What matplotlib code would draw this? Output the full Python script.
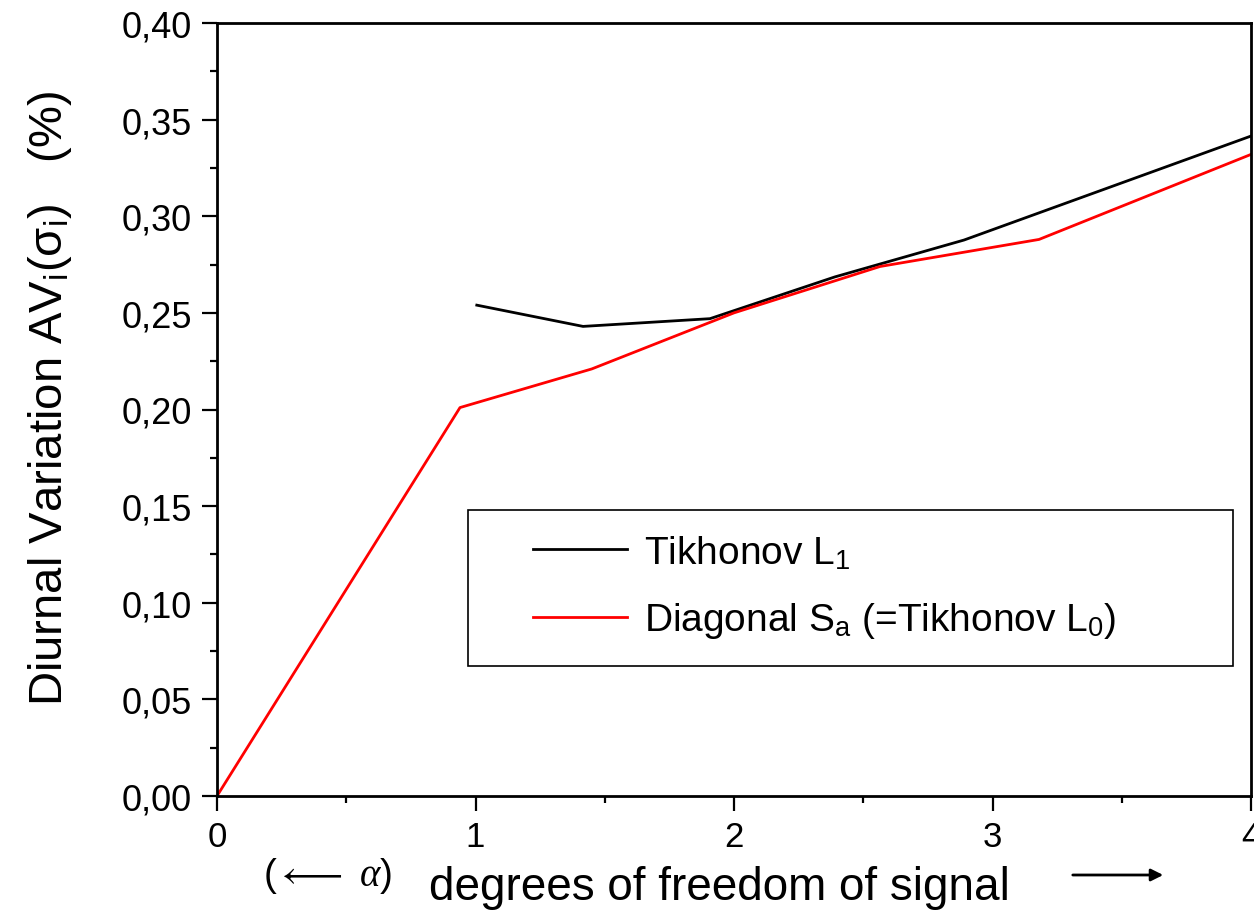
import matplotlib
matplotlib.use("Agg")
import matplotlib.pyplot as plt
from matplotlib.patches import Rectangle

# values
dof_l1 = [1.005, 1.416, 1.907, 2.39, 2.89, 4.0]
av_l1 = [0.254, 0.243, 0.247, 0.2686, 0.2877, 0.3415]

dof_diag = [0.0, 0.94, 1.45, 2.0, 2.565, 3.18, 4.0]
av_diag = [0.0, 0.201, 0.221, 0.250, 0.274, 0.288, 0.332]

y_ticks = [0.0, 0.05, 0.10, 0.15, 0.20, 0.25, 0.30, 0.35, 0.40]
y_tick_labels = ["0,00", "0,05", "0,10", "0,15", "0,20", "0,25", "0,30", "0,35", "0,40"]
x_ticks = [0, 1, 2, 3, 4]

plt.rcParams["font.family"] = "Liberation Sans"
plt.rcParams["mathtext.fontset"] = "custom"
plt.rcParams["mathtext.rm"] = "Liberation Sans"
plt.rcParams["mathtext.it"] = "Liberation Serif:italic"

fig = plt.figure(figsize=(12.54, 9.2), dpi=100)
ax = fig.add_axes([217 / 1254, 1 - 797 / 920, 1034 / 1254, 773 / 920])

ax.plot(dof_l1, av_l1, color="black", lw=2, label=r"Tikhonov L$_\mathregular{1}$")
ax.plot(dof_diag, av_diag, color="red", lw=2,
        label=r"Diagonal S$_\mathregular{a}$ (=Tikhonov L$_\mathregular{0}$)")

ax.set_xlim(0, 4)
ax.set_ylim(0, 0.40)
ax.set_xticks(x_ticks)
ax.set_xticks([0.5, 1.5, 2.5, 3.5], minor=True)
ax.set_yticks(y_ticks)
ax.set_yticklabels(y_tick_labels)
ax.set_yticks([0.025, 0.075, 0.125, 0.175, 0.225, 0.275, 0.325, 0.375], minor=True)
ax.tick_params(axis="x", labelsize=25, pad=6)
ax.tick_params(axis="y", labelsize=26, pad=7)
ax.tick_params(which="major", direction="out", length=11, width=1.6)
ax.tick_params(which="minor", direction="out", length=5, width=1.6)
for s in ax.spines.values():
    s.set_linewidth(2)

# legend without its own frame, the box is drawn separately so the padding matches
leg = ax.legend(loc="upper left", bbox_to_anchor=(510 / 1254, 1 - 511 / 920),
                bbox_transform=fig.transFigure, borderaxespad=0, frameon=False,
                fontsize=28, handlelength=2.4, handletextpad=0.45, borderpad=0.6,
                labelspacing=0.75)
fig.patches.append(Rectangle((468 / 1254, 1 - 667 / 920), 765 / 1254, 156 / 920,
                             transform=fig.transFigure, fill=False,
                             edgecolor="black", lw=1.2, zorder=5))

fig.text(0.040, 0.567, r"Diurnal Variation AV$_\mathregular{i}$(σ$_\mathregular{i}$)   (%)",
         rotation=90, ha="center", va="center", fontsize=34)

fig.text(0.574, 1 - 888 / 920, "degrees of freedom of signal", ha="center", va="center", fontsize=33)
fig.text(0.210, 1 - 876 / 920, r"($\longleftarrow$ $\alpha$)", ha="left", va="center", fontsize=28)
fig.patches.append(plt.matplotlib.patches.FancyArrowPatch(
    (1070 / 1254, 1 - 876 / 920), (1166 / 1254, 1 - 876 / 920),
    transform=fig.transFigure, arrowstyle="-|>", mutation_scale=18, lw=2, color="black"))

fig.savefig("out.png", dpi=100)
